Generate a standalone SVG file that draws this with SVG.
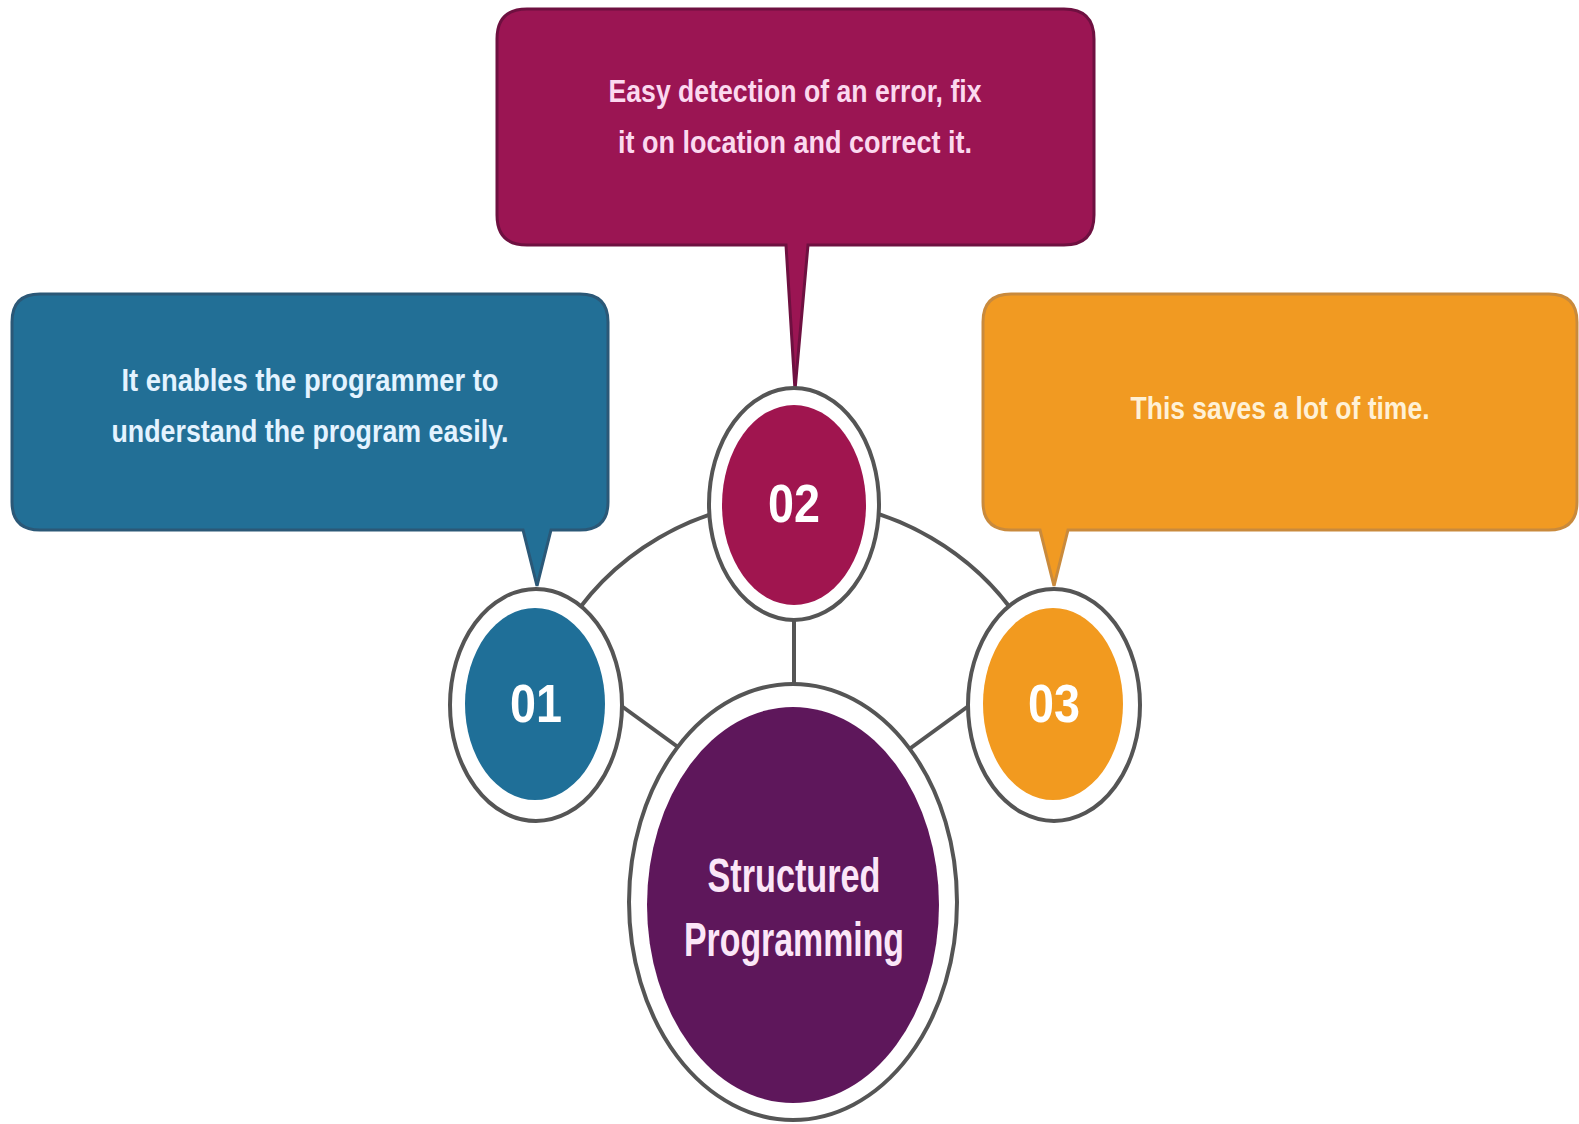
<svg xmlns="http://www.w3.org/2000/svg" width="1579" height="1124" viewBox="0 0 1579 1124">
<style>
.ring{fill:#ffffff;stroke:#555555;stroke-width:4}
.conn{fill:none;stroke:#555555;stroke-width:4}
.box{stroke-width:3}
.t{font-family:"Liberation Sans",Arial,sans-serif;font-size:31px;font-weight:bold;text-anchor:middle}
.num{font-family:"Liberation Sans",Arial,sans-serif;font-size:54px;font-weight:bold;text-anchor:middle;fill:#ffffff}
.big{font-family:"Liberation Sans",Arial,sans-serif;font-size:48px;font-weight:bold;text-anchor:middle;fill:#fbe6f8}
</style>
<rect width="1579" height="1124" fill="#ffffff"/>
<g id="connectors">
<path class="conn" d="M 560 638 A 270 270 0 0 1 1030 638"/>
<line class="conn" x1="605" y1="694" x2="700" y2="763"/>
<line class="conn" x1="985" y1="694" x2="890" y2="763"/>
<line class="conn" x1="794" y1="600" x2="794" y2="700"/>
</g>
<g id="box01">
<path class="box" fill="#226f96" stroke="#2b5877" d="M 40 294 H 580 Q 608 294 608 322 V 502 Q 608 530 580 530 H 551 L 537 586 L 523 530 H 40 Q 12 530 12 502 V 322 Q 12 294 40 294 Z"/>
<text class="t" fill="#e4f3ff" x="310" y="391" textLength="377" lengthAdjust="spacingAndGlyphs">It enables the programmer to</text>
<text class="t" fill="#e4f3ff" x="310" y="442" textLength="397" lengthAdjust="spacingAndGlyphs">understand the program easily.</text>
</g>
<g id="box02">
<path class="box" fill="#9b1553" stroke="#6e1040" d="M 527 9 H 1064 Q 1094 9 1094 39 V 215 Q 1094 245 1064 245 H 808 L 795 390 L 786 245 H 527 Q 497 245 497 215 V 39 Q 497 9 527 9 Z"/>
<text class="t" fill="#fbd9ef" x="795" y="102" textLength="373" lengthAdjust="spacingAndGlyphs">Easy detection of an error, fix</text>
<text class="t" fill="#fbd9ef" x="795" y="153" textLength="354" lengthAdjust="spacingAndGlyphs">it on location and correct it.</text>
</g>
<g id="box03">
<path class="box" fill="#f19a22" stroke="#c98a3c" d="M 1011 294 H 1549 Q 1577 294 1577 322 V 502 Q 1577 530 1549 530 H 1068 L 1054 586 L 1040 530 H 1011 Q 983 530 983 502 V 322 Q 983 294 1011 294 Z"/>
<text class="t" fill="#fff1d6" x="1280" y="419" textLength="299" lengthAdjust="spacingAndGlyphs">This saves a lot of time.</text>
</g>
<g id="node01">
<ellipse class="ring" cx="536" cy="705" rx="86" ry="116"/>
<ellipse cx="535" cy="704" rx="70" ry="96" fill="#1f6f98"/>
<text class="num" x="536" y="722" textLength="52" lengthAdjust="spacingAndGlyphs">01</text>
</g>
<g id="node02">
<ellipse class="ring" cx="794" cy="504" rx="85" ry="116"/>
<ellipse cx="794" cy="505" rx="72" ry="100" fill="#a0154f"/>
<text class="num" x="794" y="522" textLength="52" lengthAdjust="spacingAndGlyphs">02</text>
</g>
<g id="node03">
<ellipse class="ring" cx="1054" cy="705" rx="86" ry="116"/>
<ellipse cx="1053" cy="704" rx="70" ry="96" fill="#f29a1f"/>
<text class="num" x="1054" y="722" fill="#fff3dc" textLength="52" lengthAdjust="spacingAndGlyphs">03</text>
</g>
<g id="center">
<ellipse class="ring" cx="793" cy="902" rx="164" ry="218"/>
<ellipse cx="793" cy="905" rx="146" ry="198" fill="#5e175b"/>
<text class="big" x="794" y="892" textLength="173" lengthAdjust="spacingAndGlyphs">Structured</text>
<text class="big" x="794" y="956" textLength="220" lengthAdjust="spacingAndGlyphs">Programming</text>
</g>
</svg>
